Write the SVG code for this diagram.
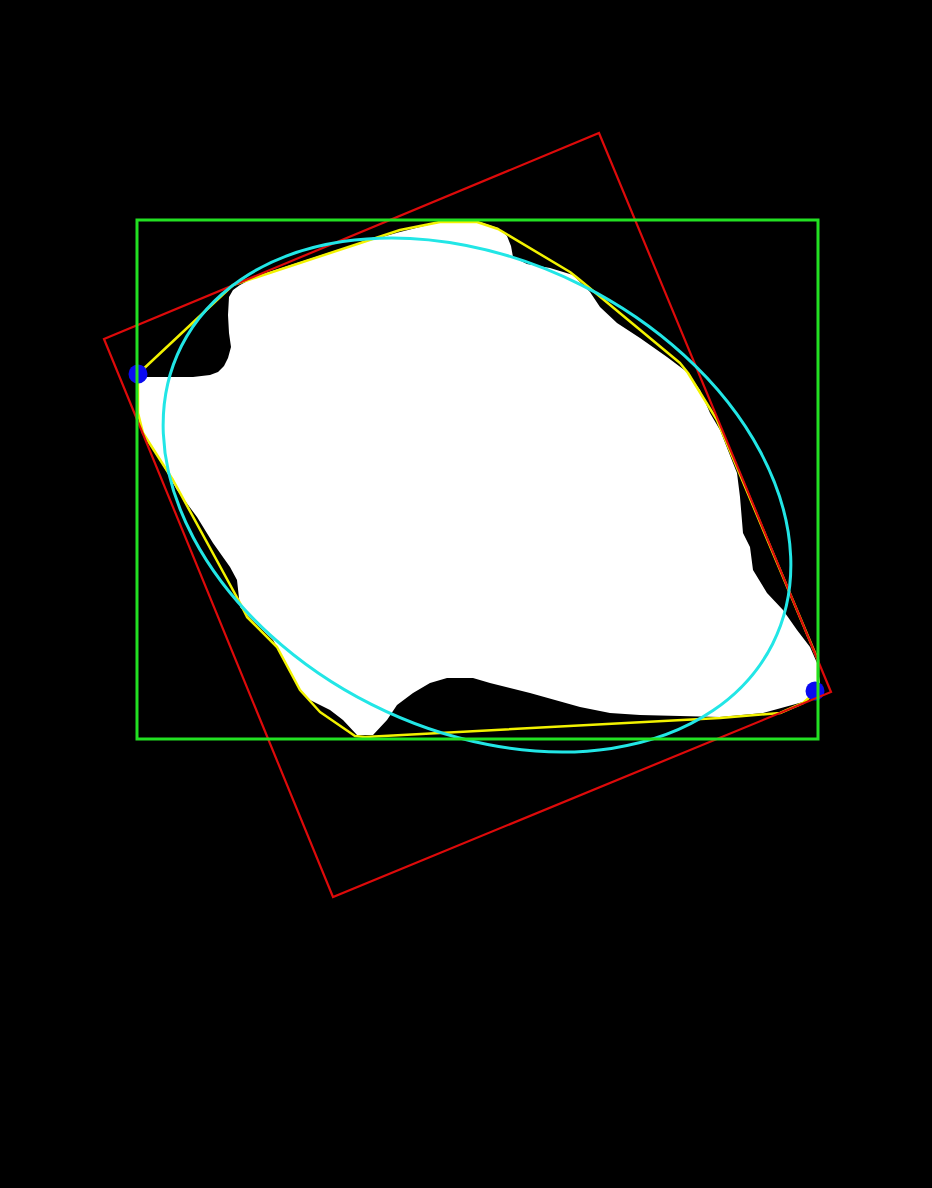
<svg xmlns="http://www.w3.org/2000/svg" width="932" height="1188" viewBox="0 0 932 1188">
<style>
.blob{fill:#ffffff;stroke:none}
.hull{fill:none;stroke:#f2f200;stroke-width:2.5;stroke-linejoin:round}
.minrect{fill:none;stroke:#dd0a0a;stroke-width:2.2}
.fit{fill:none;stroke:#22e6e6;stroke-width:3}
.bbox{fill:none;stroke:#22e022;stroke-width:3}
.pt{fill:#0a0af0}
</style>
<rect x="0" y="0" width="932" height="1188" fill="#000000"/>
<g id="blob">
<path class="blob" d="M137,377 L193,377 L210,375 L218,372 L224,366 L228,358 L231,347 L229,333 L228,315 L229,297 L233,290 L240,285 L257,276 L300,262 L350,246 L400,232 L440,222 L477,221 L498,228 L507,236 L511,246 L513,257 L527,264 L550,268 L573,275 L590,292 L600,307 L617,323 L640,338 L667,357 L687,372 L700,390 L710,413 L720,430 L733,463 L737,473 L740,497 L743,533 L750,547 L753,570 L767,593 L783,610 L797,630 L810,647 L817,663 L820,683 L818,693 L803,702 L763,713 L720,717 L640,715 L610,713 L580,707 L530,693 L490,683 L473,678 L447,678 L430,683 L413,693 L397,705 L387,720 L373,735 L357,735 L343,720 L330,710 L310,700 L300,690 L277,647 L273,640 L247,615 L240,607 L237,580 L230,567 L213,543 L197,517 L177,490 L150,443 L140,427 L138,413 L137,380 Z"/>
</g>
<g id="hull">
<polygon class="hull" points="138,374 233,285 400,230 440,222 477,222 498,229 570,272 580,280 680,363 688,373 717,420 818,660 818,690 803,703 780,713 720,718 365,737 355,736 320,712 300,690 277,647 247,617 240,603 173,480 143,433 138,413"/>
</g>
<g id="extreme-points">
<circle class="pt" cx="138" cy="374" r="9.5"/>
<circle class="pt" cx="815" cy="691" r="9.5"/>
</g>
<g id="min-area-rect">
<polygon class="minrect" points="104,339 599,133 831,692 333,897"/>
</g>
<g id="fit-ellipse">
<ellipse class="fit" cx="477" cy="495" rx="331" ry="234.5" transform="rotate(26.75 477 495)"/>
</g>
<g id="bounding-box">
<rect class="bbox" x="137" y="220" width="681" height="519"/>
</g>
</svg>
